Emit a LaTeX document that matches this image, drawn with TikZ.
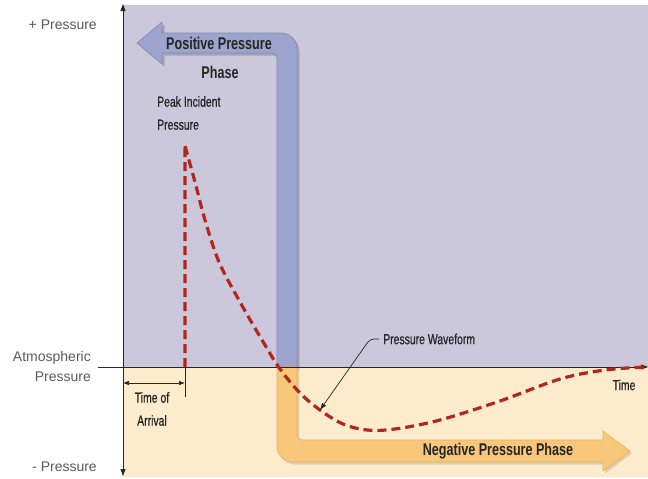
\documentclass[tikz,border=0pt]{standalone}
\usepackage{fontspec}
\setmainfont{Liberation Sans}
\newfontfamily\cond[FakeStretch=0.74]{Liberation Sans}
\newfontfamily\condm[FakeStretch=0.72, FakeBold=0.8]{Liberation Sans}
\usetikzlibrary{arrows.meta}
\definecolor{posbg}{HTML}{CBC8DC}
\definecolor{negbg}{HTML}{FCEBCC}
\definecolor{posband}{HTML}{9DA5CE}
\definecolor{posedge}{HTML}{8088B6}
\definecolor{negband}{HTML}{F8C77A}
\definecolor{negedge}{HTML}{EAAE5C}
\definecolor{wave}{HTML}{B3261E}
\definecolor{axislabel}{HTML}{5A5A5A}
\tikzset{
  axisline/.style={line width=0.9pt, draw=black!85},
  axistip/.style={-{Triangle[length=7pt,width=5pt]}},
  sidelabel/.style={text=axislabel, font=\fontsize{14}{20}\selectfont, inner sep=0pt, align=right},
  phaselabel/.style={text=black!85, font=\cond\bfseries\fontsize{17}{20}\selectfont, inner sep=0pt},
  notelabel/.style={text=black!85, font=\condm\fontsize{14.5}{23}\selectfont, inner sep=0pt},
  wavecurve/.style={draw=wave, line width=3.2pt, dash pattern=on 9pt off 5pt},
  leader/.style={draw=black!85, line width=0.7pt}
}
\begin{document}
\begin{tikzpicture}[x=1pt,y=-1pt]
\useasboundingbox (0,0) rectangle (648,479);
% background: positive above the baseline, negative below
\fill[white] (0,0) rectangle (648,479);
\fill[posbg] (123,5) rectangle (648,367);
\fill[negbg] (123,367) rectangle (648,477);

% positive pressure phase band (shadow, then band)
\fill[black, opacity=0.18, shift={(2.5,2.5)}]
  (277,367) [rounded corners=5] -- (277,53) [sharp corners] -- (162,53) -- (162,64) -- (137,43) -- (162,22) -- (162,33)
  [rounded corners=16] -- (297,33) [sharp corners] -- (297,367) -- cycle;
\filldraw[fill=posband, draw=posedge, line width=0.6pt]
  (277,367) [rounded corners=5] -- (277,53) [sharp corners] -- (162,53) -- (162,64) -- (137,43) -- (162,22) -- (162,33)
  [rounded corners=16] -- (297,33) [sharp corners] -- (297,367) -- cycle;

% negative pressure phase band
\fill[black, opacity=0.12, shift={(2,2.5)}]
  (297,367) [rounded corners=5] -- (297,440) [sharp corners] -- (603,440) -- (603,431) -- (630,451) -- (603,471) -- (603,462)
  [rounded corners=16] -- (277,462) [sharp corners] -- (277,367) -- cycle;
\filldraw[fill=negband, draw=negedge, line width=0.6pt]
  (297,367) [rounded corners=5] -- (297,440) [sharp corners] -- (603,440) -- (603,431) -- (630,451) -- (603,471) -- (603,462)
  [rounded corners=16] -- (277,462) [sharp corners] -- (277,367) -- cycle;

% axes
\coordinate (origin) at (123,367);
\coordinate (ytop) at (123,4);
\coordinate (ybot) at (123,476);
\coordinate (xleft) at (98,367);
\coordinate (xright) at (648,367);
\draw[axisline, axistip] (origin) -- (ytop);
\draw[axisline, axistip] (origin) -- (ybot);
\draw[axisline, axistip] (xleft) -- (xright);

% pressure waveform
\draw[wavecurve] (185,367) -- (185,146)
  plot[smooth, tension=0.55] coordinates {(185,146) (195,182) (205,220) (219,262) (240,302) (262,340) (280,369) (300,393) (320,410) (343,424) (367,430) (395,429) (440,420) (500,401) (560,379) (605,370) (646,367)};

% time of arrival
\coordinate (arrive) at (185,367);
\coordinate (arrivetick) at (185,397);
\coordinate (toaL) at (123,383);
\coordinate (toaR) at (185,383);
\draw[leader] (arrive) -- (arrivetick);
\draw[leader, {Latex[length=6pt,width=4.5pt]}-{Latex[length=6pt,width=4.5pt]}] (toaL) -- (toaR);

% labels
\node[sidelabel, anchor=east] (plus) at (97,25) {+ Pressure};
\node[sidelabel, anchor=east] (atm) at (91,366) {Atmospheric\\Pressure};
\node[sidelabel, anchor=east] (minus) at (97,467) {- Pressure};

\node[phaselabel] (pos1) at (219,43) {Positive Pressure};
\node[phaselabel] (pos2) at (220,72) {Phase};
\node[phaselabel] (neg) at (498,451) {Negative Pressure Phase};

\node[notelabel, anchor=north west, align=left] (peak) at (157,96) {Peak Incident\\Pressure};
\node[notelabel, align=center] (toa) at (152,409) {Time of\\Arrival};
\node[notelabel] (time) at (624,385) {Time};
\node[notelabel, anchor=west] (pw) at (383,339) {Pressure Waveform};

\coordinate (pwtip) at (320,410);
\draw[leader, rounded corners=4pt, -{Latex[length=7pt,width=5pt]}] (pw.west) ++(-4,0) -- ++(-9,0) -- (pwtip);
\end{tikzpicture}
\end{document}
